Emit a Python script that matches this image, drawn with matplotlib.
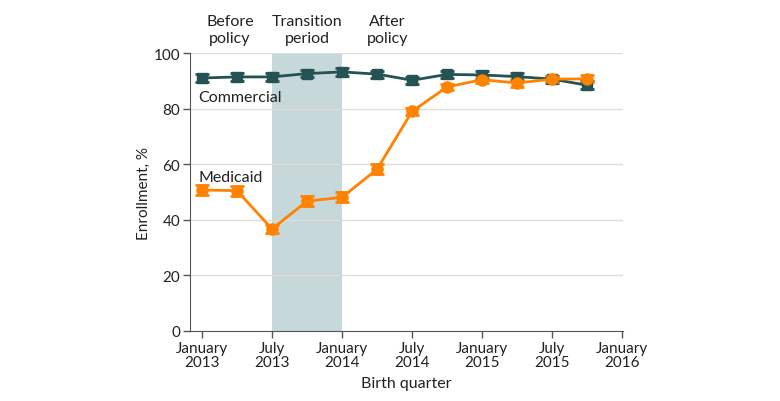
import matplotlib
matplotlib.use("Agg")
from matplotlib import pyplot as plt

plt.rcParams['font.family'] = ['Lato', 'DejaVu Sans']

# birth quarters, 0 = Jan 2013
quarters = [0, 1, 2, 3, 4, 5, 6, 7, 8, 9, 10, 11]
commercial = [91.0, 91.4, 91.4, 92.6, 93.2, 92.4, 90.2, 92.3, 92.1, 91.5, 90.6, 88.4]
commercial_err = [1.3, 1.4, 1.3, 1.4, 1.3, 1.3, 1.3, 1.3, 1.3, 1.3, 1.3, 1.5]
medicaid = [50.7, 50.5, 36.7, 46.7, 48.1, 58.2, 79.0, 87.8, 90.4, 89.2, 90.6, 90.7]
medicaid_err = [1.8, 1.8, 1.6, 1.8, 1.8, 1.8, 1.3, 1.2, 1.2, 1.3, 1.2, 1.3]

tick_pos = [0, 2, 4, 6, 8, 10, 12]
tick_labels = ["January\n2013", "July\n2013", "January\n2014", "July\n2014",
               "January\n2015", "July\n2015", "January\n2016"]
y_ticks = [0, 20, 40, 60, 80, 100]

transition = (2, 4)
periods = [("Before\npolicy", 0.8), ("Transition\nperiod", 3.0), ("After\npolicy", 5.3)]

teal = "#255353"
orange = "#ff8200"
grey = "#555555"

fig = plt.figure(figsize=(7.8, 4.02), dpi=100)
ax = fig.add_axes([190/780, 1-332/402, 433/780, 278/402])

ax.axvspan(transition[0], transition[1], color="#c6d8d9", lw=0, zorder=0)
ax.set_yticks(y_ticks)
ax.grid(axis="y", color="#dddddd", lw=1, zorder=0.5)

ax.errorbar(quarters, commercial, yerr=commercial_err, color=teal, marker="s",
            ms=7, lw=2, elinewidth=2, capsize=5, capthick=2, zorder=3)
ax.errorbar(quarters, medicaid, yerr=medicaid_err, color=orange, marker="o",
            ms=8, lw=2, elinewidth=2, capsize=5, capthick=2, zorder=3)

ax.text(-0.1, 84, "Commercial", fontsize=11.5, va="center", ha="left", color="#222222")
ax.text(-0.1, 55.5, "Medicaid", fontsize=11.5, va="center", ha="left", color="#222222")

for label, xpos in periods:
    ax.text(xpos, 103, label, fontsize=11.5, ha="center", va="bottom", color="#222222",
            linespacing=1.2)

ax.set_xlim(-0.34, 12.02)
ax.set_ylim(0, 100)
ax.set_xticks(tick_pos)
ax.set_xticklabels(tick_labels, fontsize=11, linespacing=1.05)
ax.tick_params(axis="x", pad=2)
ax.tick_params(axis="y", labelsize=11, pad=2)
ax.tick_params(colors=grey, labelcolor="#222222", length=5, width=1)
for s in ["top", "right"]:
    ax.spines[s].set_visible(False)
for s in ["left", "bottom"]:
    ax.spines[s].set_color(grey)
ax.set_ylabel("Enrollment, %", fontsize=11, color="#222222")
ax.yaxis.set_label_coords(-0.09, 0.5)
ax.set_xlabel("Birth quarter", fontsize=11.5, color="#222222", labelpad=5)

fig.savefig("out.png", dpi=100)
